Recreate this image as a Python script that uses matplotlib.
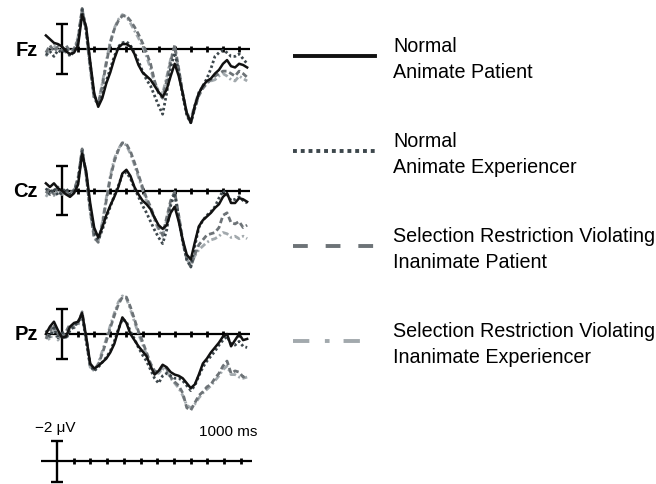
import matplotlib
matplotlib.use("Agg")
import matplotlib.pyplot as plt

plt.rcParams['font.family'] = ['Liberation Sans', 'DejaVu Sans']

# time points (ms) shared by all waveforms
times = list(range(-100, 1151, 25))

# amplitudes in microvolts (negative plotted up)
fz_normal_patient = [-1.1, -0.8, -0.5, -0.4, -0.2, 0.2, 0.4, 0.3, -0.3, -2.8, -1.8, 1.0, 3.6, 4.7, 4.0, 2.8, 1.9,
                     0.8, -0.1, -0.4, -0.4, -0.2, 0.4, 1.3, 1.9, 2.2, 2.5, 3.0, 3.5, 3.9, 3.3, 2.2, 1.2, 2.2,
                     3.6, 5.2, 6.0, 4.6, 3.6, 3.0, 2.6, 2.4, 2.0, 1.7, 1.2, 0.9, 1.4, 1.5, 1.2, 1.3, 1.5]
fz_normal_experiencer = [0.5, 0.2, 0.6, 0.1, 0.3, 0.0, 0.6, 0.2, -0.6, -3.2, -1.6, 1.2, 3.8, 4.5, 3.8, 2.6, 1.6,
                         0.6, -0.2, -0.5, -0.6, -0.3, 0.3, 1.0, 1.8, 2.5, 3.0, 3.8, 4.6, 5.3, 3.6, 1.5, 0.3, 1.8,
                         3.8, 5.4, 6.0, 4.8, 3.6, 3.0, 2.4, 1.6, 0.6, 0.3, 0.1, 0.3, 0.6, 0.6, 0.4, 0.8, 1.2]
fz_srv_patient = [0.3, -0.3, 0.2, -0.2, 0.1, -0.3, 0.2, 0.0, -0.8, -3.3, -1.5, 1.5, 4.0, 4.5, 3.0, 1.2, -0.5,
                  -1.6, -2.3, -2.7, -2.7, -2.3, -1.8, -1.2, -0.5, 0.3, 1.2, 2.6, 3.6, 4.0, 2.6, 1.0, -0.3, 1.6,
                  3.6, 5.3, 6.0, 4.8, 3.8, 3.2, 2.8, 2.5, 2.2, 2.0, 1.8, 1.8, 2.0, 2.2, 1.8, 2.0, 2.3]
fz_srv_experiencer = [0.6, 0.0, -0.3, 0.2, -0.1, 0.3, 0.5, 0.1, -1.0, -3.2, -1.3, 1.6, 4.1, 4.4, 2.8, 1.0, -0.6,
                      -1.7, -2.4, -2.8, -2.6, -2.1, -1.5, -0.9, -0.2, 0.6, 1.6, 2.8, 3.4, 3.6, 2.3, 0.8, -0.1, 1.8,
                      3.8, 5.2, 5.7, 4.5, 3.5, 3.0, 2.7, 2.6, 2.5, 2.2, 2.0, 2.2, 2.5, 2.6, 2.2, 2.4, 2.6]

cz_normal_patient = [-0.6, -0.3, -0.6, -0.2, 0.0, 0.3, 0.5, 0.2, -0.5, -3.0, -1.6, 1.0, 3.0, 3.8, 3.0, 2.0, 1.2,
                     0.5, -0.3, -1.4, -1.7, -1.2, -0.3, 0.3, 0.8, 1.1, 1.5, 2.2, 2.8, 3.1, 2.8, 1.8, 1.3, 2.5,
                     4.0, 5.2, 5.6, 4.2, 2.9, 2.4, 2.1, 1.8, 1.4, 1.1, 0.5, 0.2, 1.0, 1.0, 0.6, 0.7, 0.9]
cz_normal_experiencer = [-0.2, 0.3, -0.2, 0.4, 0.1, -0.2, 0.3, 0.0, -0.8, -3.2, -1.4, 1.4, 3.4, 4.0, 3.2, 2.2, 1.3,
                         0.4, -0.4, -1.3, -1.5, -1.0, -0.2, 0.5, 1.2, 1.8, 2.5, 3.2, 3.8, 4.3, 3.2, 1.2, 0.2, 2.2,
                         4.2, 5.6, 6.2, 4.5, 3.0, 2.4, 2.0, 1.7, 1.3, 0.6, 0.0, 0.3, 0.8, 0.7, 0.5, 0.8, 1.0]
cz_srv_patient = [0.2, -0.2, 0.3, -0.3, 0.2, 0.0, 0.4, -0.1, -1.0, -3.4, -1.3, 1.6, 3.8, 4.2, 2.8, 0.8, -1.0,
                  -2.4, -3.3, -3.9, -3.8, -3.2, -2.3, -1.3, -0.3, 0.6, 1.3, 2.2, 3.0, 3.6, 2.2, 0.8, 0.1, 2.0,
                  4.0, 5.6, 6.2, 5.2, 4.4, 4.0, 3.6, 3.5, 3.4, 3.0, 2.0, 1.8, 2.6, 2.7, 2.5, 3.0, 2.8]
cz_srv_experiencer = [0.5, 0.0, 0.4, -0.1, 0.3, 0.2, 0.1, 0.1, -1.1, -3.3, -1.2, 1.7, 3.9, 4.1, 2.6, 0.6, -1.2,
                      -2.6, -3.4, -3.9, -3.7, -3.0, -2.1, -1.1, -0.1, 0.8, 1.5, 2.4, 3.2, 3.7, 2.4, 1.0, 0.3, 2.3,
                      4.2, 5.6, 6.0, 5.3, 4.8, 4.5, 4.2, 4.0, 3.9, 3.7, 3.4, 3.5, 3.8, 3.7, 3.9, 3.7, 3.9]

pz_normal_patient = [0.0, -0.6, -1.0, -0.3, 0.3, 0.2, -0.6, -0.9, -1.0, -1.7, 0.2, 2.4, 2.8, 2.6, 2.3, 2.0, 1.5,
                     0.8, -0.3, -1.35, -0.9, 0.0, 0.5, 1.0, 1.4, 1.8, 2.6, 3.3, 3.0, 2.5, 2.7, 3.1, 3.3, 3.4,
                     3.6, 4.0, 4.4, 4.1, 3.3, 2.4, 2.0, 1.5, 1.1, 0.7, 0.2, 0.0, 1.0, 0.5, 0.0, 0.5, 0.4]
pz_normal_experiencer = [-0.3, 0.2, -0.5, 0.3, -0.2, 0.4, -0.3, -0.6, -1.0, -1.5, 0.5, 2.6, 3.0, 2.7, 2.3, 1.9, 1.4,
                         0.6, -0.4, -1.2, -1.0, -0.2, 0.4, 1.1, 1.7, 2.2, 2.9, 3.6, 4.0, 3.4, 3.2, 3.4, 3.6, 3.6,
                         3.8, 4.2, 4.6, 4.2, 3.4, 2.7, 2.2, 1.8, 1.4, 0.9, 0.5, 0.2, 0.8, 0.9, 0.6, 1.0, 1.1]
pz_srv_patient = [0.4, -0.2, -0.8, 0.0, 0.4, -0.2, -0.8, -0.5, -0.9, -1.8, 0.3, 2.5, 2.9, 2.5, 1.6, 0.6, -0.5,
                  -1.5, -2.4, -3.0, -3.0, -2.2, -1.2, -0.2, 0.6, 1.5, 2.4, 3.0, 3.1, 2.6, 2.8, 3.5, 3.9, 4.2,
                  4.8, 6.0, 6.2, 5.6, 5.0, 4.7, 4.3, 4.1, 3.6, 3.2, 2.6, 2.2, 3.2, 3.0, 3.1, 3.5, 3.3]
pz_srv_experiencer = [0.1, 0.5, -0.3, 0.5, -0.1, 0.3, -0.5, -0.8, -0.7, -1.6, 0.6, 2.7, 3.0, 2.4, 1.4, 0.4, -0.7,
                      -1.7, -2.6, -3.1, -2.9, -2.0, -1.0, 0.0, 0.8, 1.7, 2.5, 3.1, 3.2, 2.8, 3.0, 3.6, 4.0, 4.4,
                      5.0, 5.8, 6.0, 5.7, 5.2, 4.8, 4.5, 4.2, 3.8, 3.4, 2.9, 2.6, 3.3, 3.3, 3.5, 3.6, 3.5]

electrodes = ['Fz', 'Cz', 'Pz']
waveforms = {
    'Fz': [fz_normal_patient, fz_normal_experiencer, fz_srv_patient, fz_srv_experiencer],
    'Cz': [cz_normal_patient, cz_normal_experiencer, cz_srv_patient, cz_srv_experiencer],
    'Pz': [pz_normal_patient, pz_normal_experiencer, pz_srv_patient, pz_srv_experiencer],
}
condition_labels = ['Normal\nAnimate Patient',
                    'Normal\nAnimate Experiencer',
                    'Selection Restriction Violating\nInanimate Patient',
                    'Selection Restriction Violating\nInanimate Experiencer']
tick_times = list(range(100, 1101, 100))
scale_uv = 2

# styles
colors = ['#111111', '#3d474c', '#6d7377', '#a2a9ad']
plot_styles = ['-', (0, (0.9, 0.9)), (0, (2.0, 1.1)), (0, (2.2, 1.0, 0.7, 1.0))]
plot_widths = [1.8, 2.0, 2.0, 2.0]
legend_styles = ['-', (0, (1, 1)), (0, (3.8, 4.6)), (0, (4.2, 4.0, 1.2, 3.6))]

W, H = 656, 485
fig = plt.figure(figsize=(W / 100, H / 100), dpi=100)


def px_axes(x0, y0, x1, y1):
    ax = fig.add_axes([x0 / W, 1 - y1 / H, (x1 - x0) / W, (y1 - y0) / H])
    ax.axis('off')
    return ax


def draw_axis(ax, t_start, t_end):
    ax.hlines(0, t_start, t_end, color='black', lw=1.6)
    ax.plot(tick_times, [0] * len(tick_times), ls='none', marker='|', ms=5, mew=2, color='black')
    ax.vlines(0, -scale_uv, scale_uv, color='black', lw=1.7)
    ax.plot([0, 0], [-scale_uv, scale_uv], ls='none', marker='_', ms=9, mew=1.7, color='black')


# waveform panels
px_per_ms = 0.161
px_per_uv = 12.3
x_zero = 62
panel_zero_y = {'Fz': 50, 'Cz': 191.7, 'Pz': 335}
for name in electrodes:
    y0 = panel_zero_y[name]
    ax = px_axes(0, y0 - 60, 256, y0 + 90)
    ax.set_xlim((0 - x_zero) / px_per_ms, (256 - x_zero) / px_per_ms)
    ax.set_ylim(90 / px_per_uv, -60 / px_per_uv)
    draw_axis(ax, -95, 1168)
    for i in [3, 2, 1, 0]:
        ax.plot(times, waveforms[name][i], color=colors[i], ls=plot_styles[i], lw=plot_widths[i])
    ax.text(-150, 0, name, ha='right', va='center', fontsize=14.5, fontweight='bold')

# calibration bar
sx_zero, sy_zero = 57, 462.3
s_px_ms, s_px_uv = 0.167, 10.35
sax = px_axes(20, 400, 270, 485)
sax.set_xlim((20 - sx_zero) / s_px_ms, (270 - sx_zero) / s_px_ms)
sax.set_ylim((485 - sy_zero) / s_px_uv, (400 - sy_zero) / s_px_uv)
draw_axis(sax, -96, 1168)
sax.text(-8, -3.3, '\u22122 \u03bcV', ha='center', va='center', fontsize=11)
sax.text(1027, -2.9, '1000 ms', ha='center', va='center', fontsize=11)

# legend
lax = px_axes(293, 0, 656, 485)
lax.set_xlim(0, 363 / 82)
lax.set_ylim(4.505, -0.6)
for i, label in enumerate(condition_labels):
    lax.plot([0, 1], [i, i], color=colors[i], ls=legend_styles[i], lw=2.8)
    lax.text(1.22, i + 0.03, label, ha='left', va='center', fontsize=14.2, linespacing=1.45)

fig.savefig('out.png', dpi=100)
